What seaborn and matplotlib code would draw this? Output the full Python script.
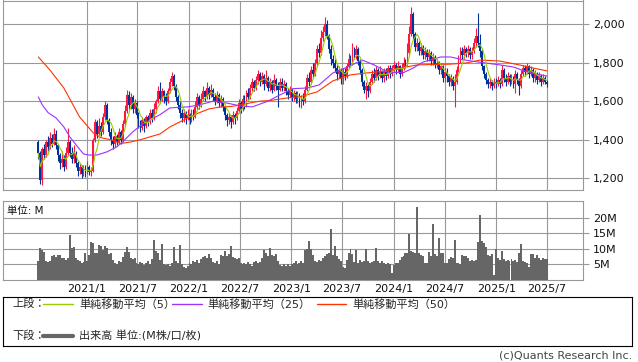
import matplotlib
matplotlib.use('Agg')
import matplotlib.pyplot as plt
import numpy as np
import pandas as pd
import seaborn as sns

# weekly candles, first week starts 2020/7/13
opens = [
    1390, 1330, 1190, 1350, 1320, 1390, 1360, 1410, 1380, 1430,
    1370, 1320, 1280, 1300, 1260, 1330, 1390, 1330, 1300, 1330,
    1280, 1240, 1260, 1220, 1250, 1230, 1260, 1230, 1240, 1400,
    1490, 1430, 1470, 1440, 1520, 1580, 1500, 1440, 1400, 1380,
    1420, 1390, 1440, 1400, 1480, 1550, 1630, 1580, 1620, 1560,
    1590, 1530, 1490, 1460, 1500, 1470, 1520, 1490, 1540, 1510,
    1560, 1600, 1650, 1610, 1650, 1620, 1600, 1650, 1700, 1730,
    1680, 1620, 1580, 1540, 1510, 1540, 1510, 1530, 1500, 1540,
    1520, 1570, 1620, 1580, 1610, 1650, 1620, 1670, 1630, 1660,
    1620, 1600, 1630, 1590, 1610, 1570, 1530, 1500, 1520, 1490,
    1530, 1510, 1550, 1590, 1560, 1610, 1580, 1640, 1620, 1670,
    1700, 1670, 1710, 1740, 1700, 1730, 1690, 1720, 1670, 1700,
    1660, 1710, 1680, 1660, 1700, 1670, 1690, 1650, 1630, 1660,
    1620, 1640, 1610, 1630, 1590, 1610, 1600, 1660, 1720, 1700,
    1760, 1740, 1800, 1870, 1850, 1930, 1960, 2000, 1940, 1870,
    1820, 1800, 1770, 1740, 1760, 1720, 1750, 1730, 1780, 1820,
    1800, 1860, 1840, 1870, 1810, 1760, 1700, 1660, 1680, 1650,
    1700, 1740, 1720, 1760, 1730, 1750, 1720, 1750, 1730, 1770,
    1740, 1770, 1790, 1760, 1780, 1740, 1770, 1800, 1790, 1850,
    1950, 2050, 1950, 1880, 1900, 1860, 1880, 1840, 1860, 1830,
    1850, 1810, 1830, 1790, 1800, 1760, 1780, 1720, 1750, 1730,
    1700, 1720, 1680, 1700, 1760, 1820, 1860, 1840, 1870, 1850,
    1870, 1840, 1860, 1900, 1940, 1900, 1860, 1780, 1740, 1710,
    1690, 1700, 1680, 1700, 1690, 1710, 1690, 1760, 1720, 1700,
    1730, 1700, 1720, 1690, 1740, 1710, 1680, 1740, 1770, 1750,
    1780, 1740, 1760, 1720, 1740, 1710, 1730, 1700, 1720, 1700,
]
closes = [
    1330, 1190, 1350, 1320, 1390, 1360, 1410, 1380, 1430, 1370,
    1320, 1280, 1300, 1260, 1330, 1390, 1330, 1300, 1330, 1280,
    1240, 1260, 1220, 1250, 1230, 1260, 1230, 1240, 1400, 1490,
    1430, 1470, 1440, 1520, 1580, 1500, 1440, 1400, 1380, 1420,
    1390, 1440, 1400, 1480, 1550, 1630, 1580, 1620, 1560, 1590,
    1530, 1490, 1460, 1500, 1470, 1520, 1490, 1540, 1510, 1560,
    1600, 1650, 1610, 1650, 1620, 1600, 1650, 1700, 1730, 1680,
    1620, 1580, 1540, 1510, 1540, 1510, 1530, 1500, 1540, 1520,
    1570, 1620, 1580, 1610, 1650, 1620, 1670, 1630, 1660, 1620,
    1600, 1630, 1590, 1610, 1570, 1530, 1500, 1520, 1490, 1530,
    1510, 1550, 1590, 1560, 1610, 1580, 1640, 1620, 1670, 1700,
    1670, 1710, 1740, 1700, 1730, 1690, 1720, 1670, 1700, 1660,
    1710, 1680, 1660, 1700, 1670, 1690, 1650, 1630, 1660, 1620,
    1640, 1610, 1630, 1590, 1610, 1600, 1660, 1720, 1700, 1760,
    1740, 1800, 1870, 1850, 1930, 1960, 2000, 1940, 1870, 1820,
    1800, 1770, 1740, 1760, 1720, 1750, 1730, 1780, 1820, 1800,
    1860, 1840, 1870, 1810, 1760, 1700, 1660, 1680, 1650, 1700,
    1740, 1720, 1760, 1730, 1750, 1720, 1750, 1730, 1770, 1740,
    1770, 1790, 1760, 1780, 1740, 1770, 1800, 1790, 1850, 1950,
    2050, 1950, 1880, 1900, 1860, 1880, 1840, 1860, 1830, 1850,
    1810, 1830, 1790, 1800, 1760, 1780, 1720, 1750, 1730, 1700,
    1720, 1680, 1700, 1760, 1820, 1860, 1840, 1870, 1850, 1870,
    1840, 1860, 1900, 1940, 1900, 1860, 1780, 1740, 1710, 1690,
    1700, 1680, 1700, 1690, 1710, 1690, 1760, 1720, 1700, 1730,
    1700, 1720, 1690, 1740, 1710, 1680, 1740, 1770, 1750, 1780,
    1740, 1760, 1720, 1740, 1710, 1730, 1700, 1720, 1700, 1690,
]
highs = [
    1400, 1340, 1360, 1380, 1400, 1420, 1440, 1430, 1460, 1450,
    1380, 1330, 1340, 1320, 1360, 1460, 1400, 1360, 1370, 1340,
    1290, 1280, 1270, 1270, 1270, 1290, 1270, 1260, 1410, 1505,
    1500, 1510, 1490, 1540, 1600, 1590, 1510, 1460, 1420, 1440,
    1430, 1460, 1450, 1500, 1580, 1660, 1650, 1640, 1630, 1610,
    1600, 1545, 1500, 1520, 1510, 1530, 1530, 1560, 1560, 1590,
    1610, 1680, 1700, 1670, 1660, 1640, 1670, 1720, 1750, 1740,
    1690, 1630, 1600, 1560, 1560, 1550, 1560, 1540, 1560, 1560,
    1600, 1640, 1630, 1640, 1680, 1660, 1700, 1680, 1690, 1670,
    1640, 1650, 1640, 1630, 1620, 1580, 1540, 1540, 1530, 1550,
    1540, 1570, 1610, 1600, 1630, 1630, 1660, 1670, 1690, 1720,
    1710, 1730, 1760, 1750, 1750, 1740, 1760, 1730, 1720, 1710,
    1740, 1720, 1700, 1720, 1720, 1710, 1700, 1670, 1680, 1670,
    1660, 1650, 1650, 1640, 1630, 1640, 1680, 1740, 1750, 1780,
    1800, 1820, 1890, 1900, 1970, 1990, 2036, 2020, 1950, 1890,
    1840, 1820, 1790, 1780, 1770, 1770, 1770, 1800, 1850, 1840,
    1900, 1880, 1890, 1880, 1820, 1770, 1710, 1700, 1690, 1720,
    1760, 1770, 1780, 1770, 1780, 1760, 1770, 1770, 1790, 1790,
    1790, 1810, 1800, 1810, 1790, 1800, 1830, 1820, 1900, 1990,
    2088, 2060, 1960, 1930, 1910, 1900, 1890, 1880, 1870, 1870,
    1860, 1850, 1840, 1820, 1810, 1800, 1790, 1770, 1770, 1740,
    1740, 1730, 1740, 1780, 1840, 1880, 1880, 1890, 1880, 1890,
    1880, 1880, 1930, 1980, 2057, 1950, 1870, 1790, 1750, 1720,
    1720, 1710, 1720, 1720, 1730, 1720, 1790, 1770, 1740, 1750,
    1740, 1740, 1730, 1760, 1750, 1720, 1760, 1790, 1790, 1800,
    1790, 1780, 1770, 1760, 1750, 1750, 1740, 1740, 1730, 1710,
]
lows = [
    1300, 1170, 1166, 1300, 1310, 1340, 1350, 1360, 1370, 1350,
    1290, 1250, 1260, 1240, 1250, 1320, 1310, 1280, 1280, 1260,
    1210, 1220, 1200, 1210, 1205, 1220, 1215, 1210, 1230, 1390,
    1410, 1420, 1420, 1430, 1500, 1480, 1420, 1370, 1350, 1360,
    1370, 1380, 1380, 1390, 1470, 1540, 1560, 1560, 1540, 1540,
    1510, 1460, 1440, 1450, 1440, 1460, 1470, 1480, 1490, 1500,
    1540, 1590, 1590, 1600, 1590, 1580, 1590, 1640, 1680, 1660,
    1600, 1560, 1510, 1490, 1490, 1480, 1500, 1480, 1490, 1500,
    1510, 1560, 1560, 1570, 1600, 1600, 1610, 1610, 1620, 1600,
    1580, 1590, 1570, 1570, 1550, 1500, 1470, 1480, 1460, 1480,
    1480, 1500, 1540, 1540, 1550, 1560, 1570, 1600, 1610, 1650,
    1650, 1660, 1690, 1680, 1690, 1660, 1680, 1650, 1650, 1640,
    1650, 1660, 1570, 1650, 1650, 1650, 1630, 1610, 1620, 1600,
    1600, 1590, 1590, 1570, 1565, 1580, 1590, 1650, 1680, 1690,
    1720, 1730, 1790, 1830, 1840, 1910, 1940, 1920, 1850, 1790,
    1770, 1750, 1710, 1720, 1690, 1690, 1710, 1720, 1770, 1780,
    1790, 1820, 1820, 1790, 1740, 1680, 1640, 1610, 1620, 1640,
    1690, 1700, 1710, 1710, 1720, 1700, 1700, 1710, 1720, 1720,
    1730, 1750, 1740, 1750, 1720, 1730, 1760, 1770, 1780, 1840,
    1940, 1920, 1860, 1860, 1840, 1840, 1820, 1820, 1810, 1810,
    1790, 1790, 1770, 1770, 1740, 1740, 1700, 1700, 1700, 1680,
    1680, 1660, 1570, 1690, 1750, 1800, 1820, 1820, 1830, 1830,
    1820, 1820, 1850, 1880, 1880, 1830, 1760, 1720, 1690, 1670,
    1670, 1660, 1670, 1670, 1680, 1670, 1680, 1700, 1680, 1690,
    1680, 1690, 1670, 1640, 1690, 1630, 1670, 1730, 1730, 1740,
    1720, 1730, 1700, 1700, 1690, 1700, 1680, 1690, 1690, 1675,
]
# weekly volume, millions
volume_m = [
    6.2, 10.4, 9.5, 9.0, 6.0, 5.8, 6.2, 7.8, 8.1, 7.5,
    8.0, 7.9, 7.2, 7.0, 6.5, 7.2, 14.4, 10.2, 10.5, 7.0,
    6.4, 6.0, 5.6, 5.9, 8.6, 6.2, 8.0, 12.1, 11.8, 8.8,
    8.5, 11.2, 10.8, 9.6, 11.0, 10.4, 8.2, 8.8, 6.5, 5.4,
    5.0, 6.0, 5.8, 7.5, 8.9, 10.6, 9.0, 7.0, 6.6, 7.2,
    5.6, 5.2, 5.8, 5.4, 4.9, 5.6, 6.0, 5.2, 6.8, 12.8,
    9.2, 8.8, 6.5, 11.4, 5.0, 4.8, 5.2, 4.6, 5.5, 10.5,
    6.0, 5.6, 11.2, 5.0, 4.2, 3.8, 4.4, 5.6, 5.2, 6.0,
    5.8, 6.5, 5.4, 6.8, 7.5, 7.8, 7.2, 8.3, 7.0, 5.9,
    5.5, 6.2, 5.0, 8.0, 7.8, 9.4, 7.6, 8.2, 10.9, 7.4,
    7.0, 6.6, 7.2, 5.3, 5.0, 5.6, 5.2, 5.8, 5.1, 4.6,
    5.8, 6.2, 5.4, 5.9, 7.0, 9.6, 8.6, 7.8, 10.2, 8.0,
    7.6, 8.2, 6.2, 4.8, 4.5, 5.0, 4.6, 5.2, 4.4, 5.0,
    5.3, 6.1, 5.2, 5.6, 6.0, 5.4, 9.6, 9.8, 12.5, 9.8,
    8.0, 6.2, 5.8, 6.5, 6.0, 7.0, 7.8, 8.2, 8.5, 16.4,
    8.0, 10.9, 7.6, 6.8, 6.0, 4.2, 3.7, 6.4, 8.6, 10.0,
    8.2, 5.8, 9.6, 5.3, 6.4, 5.8, 6.2, 10.0, 6.0, 5.6,
    5.9, 6.2, 10.4, 6.0, 5.6, 6.0, 5.3, 5.2, 5.6, 5.0,
    2.1, 4.8, 5.4, 5.6, 6.3, 7.5, 7.8, 8.8, 8.6, 14.8,
    9.2, 9.0, 8.8, 23.3, 8.6, 8.0, 7.6, 5.3, 5.6, 9.0,
    7.8, 18.0, 8.2, 7.6, 13.4, 8.6, 8.8, 5.3, 5.6, 6.8,
    7.5, 7.2, 12.8, 5.3, 5.6, 5.0, 8.0, 7.6, 7.8, 7.2,
    6.1, 6.4, 6.0, 6.3, 12.1, 20.9, 12.5, 11.8, 10.6, 8.0,
    7.6, 8.2, 1.6, 10.0, 7.0, 6.4, 9.3, 6.6, 6.2, 6.4,
    6.0, 6.6, 6.2, 6.5, 5.8, 8.6, 11.6, 6.0, 5.9, 5.6,
    4.3, 8.3, 8.4, 7.0, 8.0, 7.2, 6.5, 7.0, 6.8, 6.6,
]
# moving averages (week number, value)
ma25_weeks = [0, 2, 5, 9, 13, 16, 20, 23, 26, 30, 35, 40, 43, 48, 53, 57, 62, 67,
              76, 82, 89, 96, 103, 109, 117, 123, 130, 137, 143, 150, 157, 165,
              171, 178, 186, 191, 196, 205, 210, 216, 224, 235, 242, 249, 256, 259]
ma25_values = [1622, 1580, 1540, 1513, 1466, 1415, 1363, 1326, 1320, 1321, 1337,
               1363, 1389, 1440, 1480, 1503, 1530, 1565, 1570, 1580, 1600, 1590,
               1575, 1570, 1600, 1632, 1665, 1668, 1684, 1746, 1775, 1813, 1788,
               1750, 1748, 1772, 1803, 1829, 1829, 1815, 1803, 1788, 1777, 1751,
               1736, 1730]
ma50_weeks = [0, 6, 13, 21, 28, 32, 37, 42, 47, 52, 57, 62, 67, 72, 77, 82, 87, 93,
              98, 103, 108, 113, 118, 123, 128, 133, 142, 150, 159, 167, 176, 184,
              193, 201, 210, 218, 225, 235, 244, 252, 259]
ma50_values = [1829, 1760, 1668, 1518, 1435, 1410, 1400, 1380, 1388, 1400, 1415,
               1430, 1466, 1492, 1518, 1540, 1560, 1570, 1572, 1580, 1591, 1600,
               1603, 1611, 1618, 1622, 1648, 1705, 1736, 1746, 1755, 1770, 1788,
               1790, 1792, 1798, 1813, 1808, 1790, 1772, 1757]

tick_dates = ['2021-01-01', '2021-07-01', '2022-01-01', '2022-07-01', '2023-01-01',
              '2023-07-01', '2024-01-01', '2024-07-01', '2025-01-01', '2025-07-01']
tick_labels = ['2021/1', '2021/7', '2022/1', '2022/7', '2023/1',
               '2023/7', '2024/1', '2024/7', '2025/1', '2025/7']
price_ticks = [1200, 1400, 1600, 1800, 2000]
volume_ticks = [5, 10, 15, 20]

RED = '#ff1744'
BLUE = '#003399'
C_MA5 = '#99cc00'
C_MA25 = '#9933ff'
C_MA50 = '#ff3300'
GRID = '#999999'

weeks = pd.date_range('2020-07-13', periods=len(closes), freq='7D')
df = pd.DataFrame({'date': weeks, 'open': opens, 'close': closes,
                   'high': highs, 'low': lows, 'volume': volume_m})
df['ma5'] = df['close'].rolling(5, min_periods=1).mean()
ma25 = pd.DataFrame({'date': weeks[ma25_weeks], 'value': ma25_values})
ma50 = pd.DataFrame({'date': weeks[ma50_weeks], 'value': ma50_values})

sns.set_theme(style='white')
plt.rcParams['font.family'] = ['DejaVu Sans', 'Noto Sans CJK JP']

W, H = 638, 362
fig = plt.figure(figsize=(W / 100, H / 100), dpi=100)


def box(l, t, r, b):
    return [l / W, 1 - b / H, (r - l) / W, (b - t) / H]


ax = fig.add_axes(box(3, 0.5, 583, 190))
axv = fig.add_axes(box(3, 201, 583, 280))
axl = fig.add_axes(box(3, 297, 632, 346))

# candles
up = df['close'] >= df['open']
colors = np.where(up, RED, BLUE)
ax.vlines(df['date'], df['low'], df['high'], colors=colors, lw=0.8, zorder=3)
ax.bar(df['date'], (df['close'] - df['open']).abs(),
       bottom=df[['open', 'close']].min(axis=1), width=6.5, color=colors,
       linewidth=0, zorder=3)

sns.lineplot(data=ma50, x='date', y='value', color=C_MA50, lw=0.8, ax=ax, zorder=4)
sns.lineplot(data=ma25, x='date', y='value', color=C_MA25, lw=0.8, ax=ax, zorder=4)
sns.lineplot(data=df, x='date', y='ma5', color=C_MA5, lw=0.8, ax=ax, zorder=5)

# volume
axv.bar(df['date'], df['volume'], width=7, color='#666666', linewidth=0, zorder=3)

xmin, xmax = pd.Timestamp('2020-03-09'), pd.Timestamp('2025-11-06')
ticks = pd.to_datetime(tick_dates)
for a in (ax, axv):
    a.set_xlim(xmin, xmax)
    a.set_xticks(ticks)
    a.set_xlabel('')
    a.set_ylabel('')
    a.grid(True, color=GRID, lw=0.8)
    a.set_axisbelow(True)
    for s in a.spines.values():
        s.set_color(GRID)
        s.set_linewidth(0.8)
    a.yaxis.tick_right()
    a.tick_params(axis='y', length=4, width=0.8, color=GRID, pad=3,
                  labelsize=8, labelcolor='#111111')
    a.tick_params(axis='x', length=0)

ax.set_ylim(1139, 2122)
ax.set_yticks(price_ticks)
ax.set_yticklabels([f'{v:,}' for v in price_ticks])
ax.tick_params(axis='x', labelbottom=False)

axv.set_ylim(0, 25.3)
axv.set_yticks(volume_ticks)
axv.set_yticklabels([f'{v}M' for v in volume_ticks])
axv.set_xticklabels(tick_labels)
axv.tick_params(axis='x', labelsize=8, pad=3, labelcolor='#111111')
axv.text(4 / 580, 0.88, '単位: M', transform=axv.transAxes, fontsize=7.5,
         va='center', ha='left', color='#111111')

# legend box
axl.set_xlim(3, 632)
axl.set_ylim(346, 297)
axl.set_xticks([])
axl.set_yticks([])
for s in axl.spines.values():
    s.set_color('#000000')
    s.set_linewidth(0.8)
fs = 8
axl.text(12, 304, '上段：', fontsize=fs, va='center')
axl.plot([43, 73], [304, 304], color=C_MA5, lw=1)
axl.text(79, 304, '単純移動平均（5）', fontsize=fs, va='center')
axl.plot([172, 202], [304, 304], color=C_MA25, lw=1)
axl.text(207, 304, '単純移動平均（25）', fontsize=fs, va='center')
axl.plot([317, 346], [304, 304], color=C_MA50, lw=1)
axl.text(352, 304, '単純移動平均（50）', fontsize=fs, va='center')
axl.text(12, 336, '下段：', fontsize=fs, va='center')
axl.plot([43, 73], [336, 336], color='#666666', lw=3)
axl.text(79, 336, '出来高 単位:(M株/口/枚)', fontsize=fs, va='center')

fig.text(632 / W, 1 - 356 / H, '(c)Quants Research Inc.', ha='right', va='center',
         fontsize=8, color='#444444')

fig.savefig('out.png', dpi=100)
